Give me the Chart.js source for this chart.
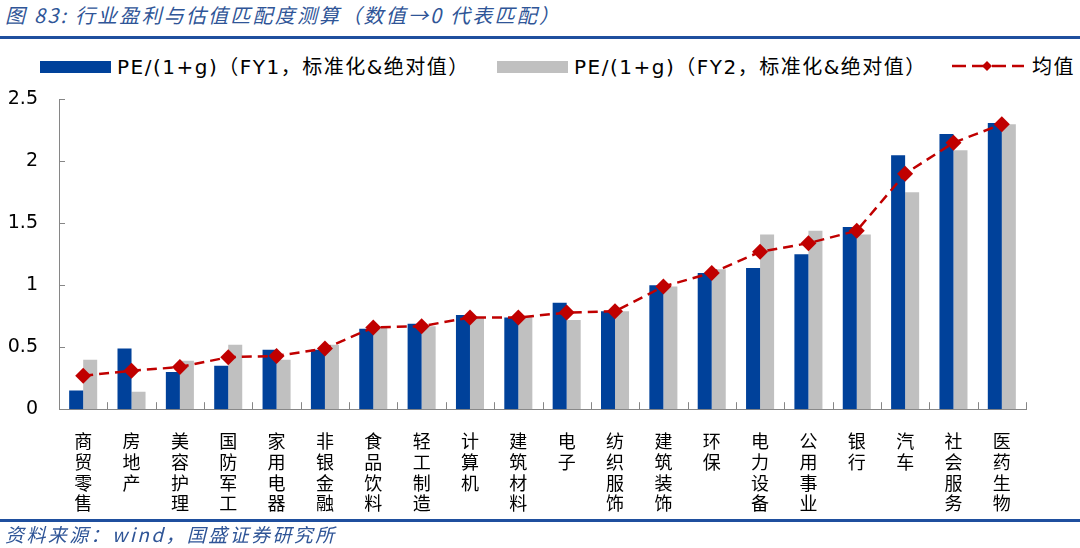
<!DOCTYPE html>
<html>
<head>
<meta charset="utf-8">
<script src="https://cdn.jsdelivr.net/npm/chart.js@4/dist/chart.umd.min.js"></script>
<style>
  body { margin: 0; width: 1080px; height: 548px; background: #fff; position: relative; overflow: hidden;
         font-family: "Noto Sans CJK SC", sans-serif; }
  .title { position: absolute; left: 5px; top: 0px; font-size: 20px; letter-spacing: 2.2px; font-style: italic; color: #2F5597; white-space: nowrap; }
  .rule { position: absolute; left: 0; width: 1080px; height: 3px; background: #1F4F9E; }
  .source { position: absolute; left: 5px; top: 520px; font-size: 19px; letter-spacing: 2.4px; font-style: italic; color: #2F5597; white-space: nowrap; }
  .lg { position: absolute; top: 54px; font-size: 20px; letter-spacing: 1.5px; line-height: 26px; color: #000; white-space: nowrap;
        font-family: "DejaVu Sans", "Noto Sans CJK SC", sans-serif; }
  .sw { position: absolute; top: 61px; width: 71px; height: 12px; }
  #wrap { position: absolute; left: 0; top: 67px; width: 1080px; height: 461px; }
</style>
</head>
<body>
<div class="title">图 83:  行业盈利与估值匹配度测算（数值→0 代表匹配）</div>
<div class="rule" style="top:36px"></div>

<div class="sw" style="left:40px;background:#00419A"></div>
<div class="lg" style="left:117px">PE/(1+g)（FY1，标准化&amp;绝对值）</div>
<div class="sw" style="left:497px;background:#C0C0C0"></div>
<div class="lg" style="left:574px">PE/(1+g)（FY2，标准化&amp;绝对值）</div>
<svg style="position:absolute;left:950px;top:58px" width="76" height="16">
  <line x1="2" y1="8" x2="74" y2="8" stroke="#C00000" stroke-width="2.5" stroke-dasharray="14,6"/>
  <polygon points="37,3 42,8 37,13 32,8" fill="#C00000"/>
</svg>
<div class="lg" style="left:1032px">均值</div>

<div id="wrap"><canvas id="chart"></canvas></div>

<div class="rule" style="top:519px"></div>
<div class="source">资料来源：wind，国盛证券研究所</div>

<script>
// 行业（竖排标签）
const industries = ['商贸零售', '房地产', '美容护理', '国防军工', '家用电器', '非银金融', '食品饮料',
  '轻工制造', '计算机', '建筑材料', '电子', '纺织服饰', '建筑装饰', '环保', '电力设备', '公用事业',
  '银行', '汽车', '社会服务', '医药生物'];

// PE/(1+g) FY1
const fy1Values = [0.15, 0.49, 0.30, 0.35, 0.48, 0.48, 0.65, 0.69, 0.76, 0.74,
  0.86, 0.79, 1.00, 1.10, 1.14, 1.25, 1.47, 2.05, 2.22, 2.31];
// PE/(1+g) FY2
const fy2Values = [0.40, 0.14, 0.39, 0.52, 0.40, 0.52, 0.67, 0.67, 0.74, 0.75,
  0.72, 0.79, 0.99, 1.13, 1.41, 1.44, 1.41, 1.75, 2.09, 2.30];
// 均值
const meanValues = [0.27, 0.31, 0.34, 0.42, 0.43, 0.49, 0.66, 0.67, 0.74, 0.74,
  0.78, 0.79, 0.99, 1.10, 1.27, 1.34, 1.44, 1.90, 2.15, 2.30];

const yTicks = [0, 0.5, 1, 1.5, 2, 2.5];

// 坐标轴内侧刻度线
const innerTicks = {
  id: 'innerTicks',
  afterDraw(chart) {
    const ctx = chart.ctx;
    const x = chart.scales.x, y = chart.scales.y;
    ctx.save();
    ctx.strokeStyle = '#868686';
    ctx.lineWidth = 1;
    ctx.beginPath();
    yTicks.forEach(v => {
      const py = Math.round(y.getPixelForValue(v)) + 0.5;
      ctx.moveTo(x.left, py);
      ctx.lineTo(x.left + 6, py);
    });
    const step = (x.right - x.left) / industries.length;
    for (let i = 0; i <= industries.length; i++) {
      const px = Math.round(x.left + i * step) + 0.5;
      ctx.moveTo(px, y.bottom);
      ctx.lineTo(px, y.bottom - 7);
    }
    ctx.stroke();
    ctx.restore();
  }
};

new Chart(document.getElementById('chart'), {
  type: 'bar',
  data: {
    labels: industries.map(s => s.split('')),
    datasets: [
      {
        label: 'PE/(1+g)（FY1，标准化&绝对值）',
        data: fy1Values,
        backgroundColor: '#00419A',
        barPercentage: 1,
        categoryPercentage: 0.58,
        order: 2
      },
      {
        label: 'PE/(1+g)（FY2，标准化&绝对值）',
        data: fy2Values,
        backgroundColor: '#C0C0C0',
        barPercentage: 1,
        categoryPercentage: 0.58,
        order: 3
      },
      {
        type: 'line',
        label: '均值',
        data: meanValues,
        borderColor: '#C00000',
        backgroundColor: '#C00000',
        borderWidth: 2.5,
        borderDash: [10, 6],
        tension: 0,
        pointStyle: 'rectRot',
        pointRadius: 8,
        pointBorderWidth: 0,
        order: 1
      }
    ]
  },
  options: {
    responsive: true,
    maintainAspectRatio: false,
    animation: false,
    layout: { padding: { left: 0, right: 54, top: 8, bottom: 0 } },
    plugins: {
      legend: { display: false },
      tooltip: { enabled: false }
    },
    scales: {
      x: {
        offset: true,
        grid: { display: false },
        border: { color: '#868686', width: 1 },
        ticks: {
          maxRotation: 0,
          autoSkip: false,
          padding: 14,
          color: '#000',
          font: { family: '"Noto Sans CJK SC"', size: 18, lineHeight: 1.15 }
        }
      },
      y: {
        min: 0,
        max: 2.5,
        afterFit: s => { s.width = 59; },
        grid: { display: false, drawTicks: false },
        border: { color: '#868686', width: 1 },
        ticks: {
          stepSize: 0.5,
          padding: 21,
          color: '#000',
          font: { family: '"DejaVu Sans"', size: 19 },
          callback: v => String(v)
        }
      }
    }
  },
  plugins: [innerTicks]
});
</script>
</body>
</html>
